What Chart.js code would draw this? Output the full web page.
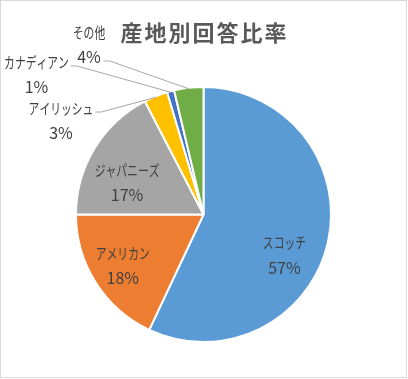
<!DOCTYPE html>
<html><head><meta charset="utf-8">
<script src="https://cdn.jsdelivr.net/npm/chart.js@4.4.0/dist/chart.umd.min.js"></script>
<style>html,body{margin:0;padding:0;background:#fff;}#wrap{width:408px;height:379px;position:relative;}</style>
</head><body><div id="wrap"><canvas id="c" width="408" height="379"></canvas></div>
<script>
const chartTitle = '産地別回答比率';
const categories = ['スコッチ', 'アメリカン', 'ジャパニーズ', 'アイリッシュ', 'カナディアン', 'その他'];
const values = [57.0, 18.0, 17.4, 3.0, 0.9, 3.7];
const colors = ['#5B9BD5', '#ED7D31', '#A5A5A5', '#FFC000', '#4472C4', '#70AD47'];

// text placement for data labels (not marks)
const labelLayout = [
  {inside: true, angleShift: 14, r: 0.71},
  {inside: true, angleShift: 0, r: 0.75},
  {inside: true, angleShift: -8.5, r: 0.65},
  {inside: false, x: 61, y: 120.5, attach: 'name'},
  {inside: false, x: 36.5, y: 74.5, attach: 'name'},
  {inside: false, x: 89, y: 44.5, attach: 'pct'}
];
const FONT = '"Noto Sans CJK JP", "Noto Sans", sans-serif';
const NAME_SX = 0.72;
const LINE_GAP = 12.5;
const TEXT_COLOR = '#404040';

const total = values.reduce((a, b) => a + b, 0);

const labelPlugin = {
  id: 'labels',
  afterDatasetsDraw(chart) {
    const ctx = chart.ctx;
    const arcs = chart.getDatasetMeta(0).data;
    ctx.save();
    ctx.fillStyle = TEXT_COLOR;
    ctx.textAlign = 'center';
    ctx.textBaseline = 'middle';
    arcs.forEach((arc, i) => {
      const p = arc.getProps(['x', 'y', 'startAngle', 'endAngle', 'outerRadius'], true);
      const mid = (p.startAngle + p.endAngle) / 2;
      const L = labelLayout[i];
      const pct = Math.round(values[i] / total * 100) + '%';
      let cx, cy;
      if (L.inside) {
        const a = mid + L.angleShift * Math.PI / 180;
        cx = p.x + Math.cos(a) * p.outerRadius * L.r;
        cy = p.y + Math.sin(a) * p.outerRadius * L.r;
      } else {
        cx = L.x; cy = L.y;
      }
      ctx.font = '15px ' + FONT;
      const nameW = ctx.measureText(categories[i]).width * NAME_SX;
      ctx.save();
      ctx.translate(cx, cy - LINE_GAP);
      ctx.scale(NAME_SX, 1);
      ctx.fillText(categories[i], 0, 0);
      ctx.restore();
      ctx.font = '16px ' + FONT;
      const pctW = ctx.measureText(pct).width;
      ctx.fillText(pct, cx, cy + LINE_GAP);
      if (!L.inside) {
        const ex = p.x + Math.cos(mid) * (p.outerRadius - 1);
        const ey = p.y + Math.sin(mid) * (p.outerRadius - 1);
        let ax, ay;
        if (L.attach === 'name') { ax = cx + nameW / 2 + 2; ay = cy - LINE_GAP + 4; }
        else { ax = cx + pctW / 2 + 3; ay = cy + LINE_GAP + 4; }
        ctx.save();
        ctx.strokeStyle = '#A6A6A6';
        ctx.lineWidth = 1;
        ctx.beginPath();
        ctx.moveTo(ax, ay);
        ctx.lineTo(ax + 6, ay);
        ctx.lineTo(ex, ey);
        ctx.stroke();
        ctx.restore();
      }
    });
    ctx.restore();
  },
  afterDraw(chart) {
    const ctx = chart.ctx;
    ctx.save();
    ctx.fillStyle = '#595959';
    ctx.font = 'bold 22px ' + FONT;
    ctx.textAlign = 'center';
    ctx.textBaseline = 'middle';
    try { ctx.letterSpacing = '2px'; } catch (e) {}
    ctx.fillText(chartTitle, 204.5, 33);
    ctx.restore();
    ctx.save();
    ctx.strokeStyle = '#D9D9D9';
    ctx.lineWidth = 1;
    ctx.strokeRect(0.5, 0.5, 406, 377);
    ctx.restore();
  }
};

new Chart(document.getElementById('c'), {
  type: 'pie',
  data: {
    labels: categories,
    datasets: [{
      data: values,
      backgroundColor: colors,
      borderColor: '#FFFFFF',
      borderWidth: 2
    }]
  },
  options: {
    responsive: false,
    animation: false,
    layout: {padding: {left: 75, right: 76, top: 86, bottom: 36}},
    plugins: {legend: {display: false}, tooltip: {enabled: false}, title: {display: false}}
  },
  plugins: [labelPlugin]
});
</script>
</body></html>
